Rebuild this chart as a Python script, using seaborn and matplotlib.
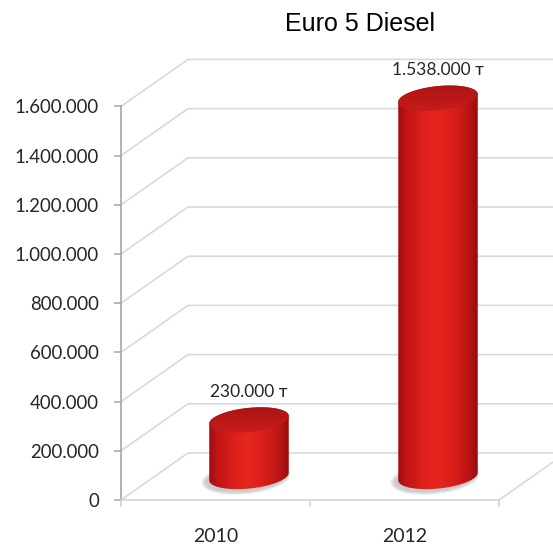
import numpy as np
import pandas as pd
import matplotlib
matplotlib.use("Agg")
import matplotlib.pyplot as plt
import seaborn as sns
from matplotlib.patches import Polygon
from matplotlib.transforms import IdentityTransform
from matplotlib.ticker import FuncFormatter, FixedLocator
from matplotlib.colors import LinearSegmentedColormap

# ---- data ----
years = ["2010", "2012"]
volumes = [230000, 1538000]
bar_labels = ["230.000 т", "1.538.000 т"]
y_ticks = [0, 200000, 400000, 600000, 800000, 1000000, 1200000, 1400000, 1600000]
title = "Euro 5 Diesel"

sns.set_theme(style="ticks")
plt.rcParams["font.family"] = ["Lato", "DejaVu Sans"]

W, H = 553, 548
fig = plt.figure(figsize=(W / 100, H / 100), dpi=100)
fig.patch.set_facecolor("white")
ax = fig.add_axes([121 / W, 48 / H, 432 / W, 460 / H])
ax.set_facecolor("none")

df = pd.DataFrame({"year": years, "volume": volumes})
sns.barplot(data=df, x="year", y="volume", ax=ax, width=0.423,
            color="#d91e18", order=years)

# fixed scales: category spacing 189 px, 200k per 49.2 px
PX_X = 189.0
PX_Y = 49.2 / 200000
xlim = (-0.5, -0.5 + 432 / PX_X)
ylim = (0, 460 / PX_Y)
ax.set_xlim(*xlim)
ax.set_ylim(*ylim)

# oblique depth of the 3D box (pixels)
DEPTH = np.array([67.0, 47.0])
ddx = DEPTH[0] / PX_X
ddy = DEPTH[1] / PX_Y

grid_c = "#d9d9d9"
# back-wall gridlines with their side-wall diagonals
for v in y_ticks[1:]:
    ax.plot([xlim[0], xlim[0] + ddx, xlim[1]], [v, v + ddy, v + ddy],
            color=grid_c, lw=1.2, clip_on=False, zorder=0)
# floor
ax.plot([xlim[0], xlim[0] + ddx, xlim[1]], [0, ddy, ddy],
        color=grid_c, lw=1.2, clip_on=False, zorder=0)
ax.plot([1.5, 1.5 + ddx], [0, ddy], color=grid_c, lw=1.2,
        clip_on=False, zorder=0)

body_cmap = LinearSegmentedColormap.from_list("body", [
    (0.0, "#960d0d"), (0.12, "#c01515"), (0.35, "#e0221c"),
    (0.5, "#e6261e"), (0.7, "#d71d19"), (0.88, "#b81414"),
    (1.0, "#8a0b0b")])
top_cmap = LinearSegmentedColormap.from_list("top", [
    (0.0, "#c81d1b"), (0.6, "#b71717"), (1.0, "#a51414")])

ANG = np.deg2rad(6)
RY = 12.0


def ellipse_pts(cx, cy, rx, ry, t):
    x = cx + rx * np.cos(t) * np.cos(ANG) - ry * np.sin(t) * np.sin(ANG)
    y = cy + rx * np.cos(t) * np.sin(ANG) + ry * np.sin(t) * np.cos(ANG)
    return np.column_stack([x, y])


bars = list(ax.patches)
for i, patch in enumerate(bars):
    xc = patch.get_x() + patch.get_width() / 2
    h = patch.get_height()
    w = patch.get_width()
    patch.set_visible(False)

    base = ax.transData.transform((xc, 0)) + DEPTH / 2
    top = ax.transData.transform((xc, h)) + DEPTH / 2
    rx = (ax.transData.transform((xc + w / 2, 0))[0]
          - ax.transData.transform((xc - w / 2, 0))[0]) / 2

    # soft floor shadow
    for k in range(6):
        sh = Polygon(ellipse_pts(base[0] - 3, base[1] - 2, rx + 5 - 0.8 * k,
                                 RY + 4 - 0.6 * k,
                                 np.linspace(0, 2 * np.pi, 120)),
                     closed=True, transform=IdentityTransform(),
                     facecolor="#606060", edgecolor="none", alpha=0.06,
                     zorder=2)
        ax.add_patch(sh)

    # cylinder silhouette
    lower = ellipse_pts(base[0], base[1], rx, RY, np.linspace(np.pi, 2 * np.pi, 80))
    upper = ellipse_pts(top[0], top[1], rx, RY, np.linspace(0, np.pi, 80))
    body = Polygon(np.vstack([lower, upper]), closed=True,
                   transform=IdentityTransform(), facecolor="none",
                   edgecolor="none", zorder=3)
    ax.add_patch(body)
    x0, x1 = base[0] - rx - 2, base[0] + rx + 2
    y0, y1 = base[1] - RY - 6, top[1] + RY + 6
    grad = np.linspace(0, 1, 256)[None, :]
    im = ax.imshow(grad, cmap=body_cmap, extent=(x0, x1, y0, y1),
                   transform=IdentityTransform(), aspect="auto",
                   interpolation="bilinear", zorder=3)
    im.set_clip_path(body)

    # top face
    face = Polygon(ellipse_pts(top[0], top[1], rx, RY, np.linspace(0, 2 * np.pi, 160)),
                   closed=True, transform=IdentityTransform(),
                   facecolor="none", edgecolor="none", zorder=4)
    ax.add_patch(face)
    vgrad = np.linspace(0, 1, 64)[:, None]
    im2 = ax.imshow(vgrad, cmap=top_cmap,
                    extent=(top[0] - rx - 2, top[0] + rx + 2,
                            top[1] - RY - 4, top[1] + RY + 4),
                    transform=IdentityTransform(), aspect="auto",
                    origin="lower", interpolation="bilinear", zorder=4)
    im2.set_clip_path(face)

    ax.annotate(bar_labels[i], xy=(top[0], top[1]), xycoords="figure pixels",
                xytext=(0, 28), textcoords="offset pixels",
                ha="center", va="center", fontsize=12.5, color="#262626",
                family=["Lato", "DejaVu Sans"], zorder=6)

ax.set_xlim(*xlim)
ax.set_ylim(*ylim)

# axes styling
for s in ["top", "right"]:
    ax.spines[s].set_visible(False)
ax.spines["left"].set_bounds(0, y_ticks[-1])
ax.spines["left"].set_color("#a6a6a6")
ax.spines["left"].set_linewidth(1.2)
ax.spines["bottom"].set_bounds(-0.5, 1.5)
ax.spines["bottom"].set_color("#d4d4d4")
ax.spines["bottom"].set_linewidth(1.2)

ax.yaxis.set_major_locator(FixedLocator(y_ticks))
ax.yaxis.set_major_formatter(FuncFormatter(lambda v, p: f"{int(v):,}".replace(",", ".")))
ax.tick_params(axis="y", direction="out", length=5, width=1.1,
               color="#a6a6a6", pad=11, labelsize=13.4, labelcolor="#262626")

ax.set_xticks([0, 1])
ax.set_xticklabels(years)
ax.xaxis.set_minor_locator(FixedLocator([-0.5, 0.5, 1.5]))
ax.tick_params(axis="x", which="major", length=0, pad=20,
               labelsize=14, labelcolor="#262626")
ax.tick_params(axis="x", which="minor", direction="out", length=5,
               width=1.1, color="#d0d0d0", bottom=True)
ax.set_xlabel("")
ax.set_ylabel("")

fig.text(360 / W, 1 - 24 / H, title, ha="center", va="center",
         fontsize=18, color="black", family=["Liberation Sans", "DejaVu Sans"])

fig.savefig("out.png", dpi=100, facecolor="white")
